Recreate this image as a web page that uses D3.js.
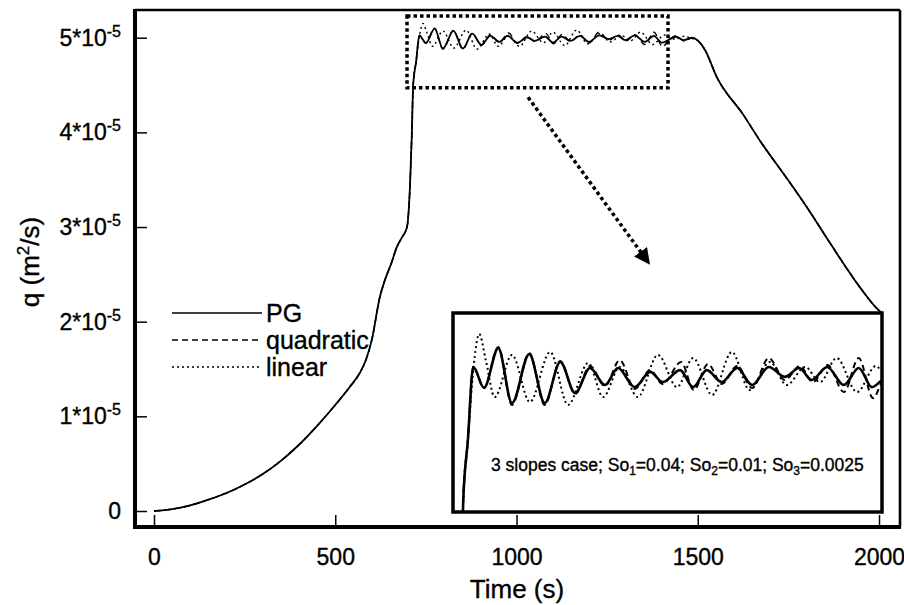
<!DOCTYPE html>
<html>
<head>
<meta charset="utf-8">
<script src="https://cdn.jsdelivr.net/npm/d3@7"></script>
<style>
body { margin: 0; background: #fff; }
text { font-family: "Liberation Sans", Arial, Helvetica, sans-serif; fill: #000; stroke: #000; stroke-width: 0.35px; }
</style>
</head>
<body>
<script>
// time in s, q in units of 1e-5 m^2/s
var riseTime = [0, 50, 100, 150, 200, 250, 300, 350, 400, 450, 500, 540, 568, 585, 601, 623, 637, 655, 670, 684, 698, 706, 711];
var riseQ = [0, 0.02, 0.06, 0.12, 0.19, 0.28, 0.39, 0.53, 0.70, 0.90, 1.12, 1.31, 1.46, 1.60, 1.81, 2.26, 2.44, 2.62, 2.79, 2.89, 3.00, 3.42, 3.95];

var pgTime = [715, 723, 732, 750, 774, 797, 826, 852, 878, 903, 928, 953, 975, 1003, 1029, 1050, 1079, 1101, 1124, 1149, 1175, 1200, 1228, 1255, 1279, 1300, 1326, 1354, 1379, 1401, 1418, 1440, 1462, 1485];
var pgQ = [4.504, 4.745, 5.024, 4.944, 5.096, 4.886, 5.073, 4.886, 5.043, 4.924, 5.020, 4.955, 5.020, 4.947, 5.005, 4.966, 5.012, 4.947, 5.012, 4.966, 5.020, 4.955, 5.024, 4.986, 5.020, 4.974, 5.024, 4.955, 5.020, 4.947, 4.974, 5.010, 4.975, 5.000];

var quadTime = [715, 723, 732, 750, 774, 797, 826, 852, 878, 903, 928, 953, 978, 1003, 1029, 1050, 1081, 1102, 1126, 1149, 1175, 1200, 1228, 1255, 1280, 1302, 1327, 1354, 1379, 1403, 1418, 1440, 1462, 1485];
var quadQ = [4.504, 4.745, 5.024, 4.944, 5.100, 4.879, 5.077, 4.879, 5.047, 4.921, 5.028, 4.951, 5.050, 4.940, 5.012, 4.959, 5.043, 4.936, 5.035, 4.959, 5.028, 4.944, 5.058, 4.974, 5.028, 4.966, 5.031, 4.928, 5.058, 4.905, 4.966, 5.020, 4.965, 5.000];

var linTime = [715, 723, 732, 742, 753, 768, 797, 827, 861, 891, 925, 950, 978, 1008, 1042, 1074, 1101, 1133, 1166, 1196, 1230, 1258, 1289, 1314, 1342, 1376, 1408, 1418, 1440, 1462, 1485];
var linQ = [4.504, 4.745, 5.012, 5.150, 5.050, 4.909, 5.070, 4.890, 5.081, 4.879, 5.039, 4.909, 5.024, 4.909, 5.070, 4.947, 5.058, 4.917, 5.081, 4.936, 5.043, 4.955, 5.024, 4.966, 5.058, 4.928, 5.028, 5.005, 4.985, 5.015, 4.990];

var fallTime = [1500, 1520, 1553, 1625, 1672, 1754, 1801, 1865, 1948, 1994, 2008];
var fallQ = [4.97, 4.87, 4.58, 4.19, 3.91, 3.47, 3.21, 2.83, 2.36, 2.14, 2.09];

var seriesNames = ["PG", "quadratic", "linear"];
var xTicks = [0, 500, 1000, 1500, 2000];
var yTicks = [0, 1, 2, 3, 4, 5];
var zoomTime = [698, 1418];
var zoomQ = [4.47, 5.23];
var captionParts = [["3 slopes case; So", 0], ["1", 1], ["=0.04; So", 0], ["2", 1], ["=0.01; So", 0], ["3", 1], ["=0.0025", 0]];

function init(){
    var w = 904;
    var h = 605;
    var left = 135, right = 900, top = 10, bottom = 527;

    function build(t, q){
        var pts = [];
        riseTime.forEach(function(d, i){ pts.push([d, riseQ[i]]); });
        t.forEach(function(d, i){ pts.push([d, q[i]]); });
        fallTime.forEach(function(d, i){ pts.push([d, fallQ[i]]); });
        return pts;
    }
    var series = [build(pgTime, pgQ), build(quadTime, quadQ), build(linTime, linQ)];
    var dashes = [null, "6,4", "2,3"];

    var xScale = d3.scaleLinear().domain([0, 2000]).range([154, 879]);
    var yScale = d3.scaleLinear().domain([0, 5]).range([511, 37.7]);

    var svg = d3.select("body")
                .append("svg")
                .attr("width", w)
                .attr("height", h);

    var defs = svg.append("defs");
    defs.append("marker")
        .attr("id", "head")
        .attr("viewBox", "0 0 10 10")
        .attr("refX", 8).attr("refY", 5)
        .attr("markerUnits", "userSpaceOnUse")
        .attr("markerWidth", 16).attr("markerHeight", 16)
        .attr("orient", "auto")
        .append("path").attr("d", "M0,0L10,5L0,10z").attr("fill", "#000");

    var line = d3.line()
                 .x(function(d){ return xScale(d[0]); })
                 .y(function(d){ return yScale(d[1]); })
                 .curve(d3.curveMonotoneX);

    // main curves, PG drawn last
    [2, 1, 0].forEach(function(i){
        svg.append("path")
           .attr("d", line(series[i]))
           .attr("fill", "none")
           .attr("stroke", "#000")
           .attr("stroke-width", i == 0 ? 1.8 : 1.4)
           .attr("stroke-dasharray", dashes[i]);
    });

    // zoom window
    svg.append("rect")
       .attr("x", xScale(zoomTime[0]))
       .attr("y", yScale(zoomQ[1]))
       .attr("width", xScale(zoomTime[1]) - xScale(zoomTime[0]))
       .attr("height", yScale(zoomQ[0]) - yScale(zoomQ[1]))
       .attr("fill", "none")
       .attr("stroke", "#000")
       .attr("stroke-width", 3.5)
       .attr("stroke-dasharray", "3.5,3");

    // arrow
    svg.append("line")
       .attr("x1", xScale(1032)).attr("y1", yScale(4.37))
       .attr("x2", xScale(1363)).attr("y2", yScale(2.63))
       .attr("stroke", "#000")
       .attr("stroke-width", 3.5)
       .attr("stroke-dasharray", "3.5,3")
       .attr("marker-end", "url(#head)");

    // inset
    var ix = d3.scaleLinear().domain(zoomTime).range([453, 882]);
    var iy = d3.scaleLinear().domain(zoomQ).range([512, 313]);
    defs.append("clipPath").attr("id", "insetClip")
        .append("rect").attr("x", 453).attr("y", 313).attr("width", 429).attr("height", 199);

    var inset = svg.append("g");
    inset.append("rect")
         .attr("x", 453).attr("y", 313).attr("width", 429).attr("height", 199)
         .attr("fill", "#fff");

    var iline = d3.line()
                  .x(function(d){ return ix(d[0]); })
                  .y(function(d){ return iy(d[1]); })
                  .curve(d3.curveMonotoneX);
    var ig = inset.append("g").attr("clip-path", "url(#insetClip)");
    [2, 1, 0].forEach(function(i){
        ig.append("path")
          .attr("d", iline(series[i]))
          .attr("fill", "none")
          .attr("stroke", "#000")
          .attr("stroke-width", i == 0 ? 2.6 : 2)
          .attr("stroke-dasharray", i == 1 ? "6,4" : (i == 2 ? "2,3" : null));
    });

    var cap = inset.append("text")
                   .attr("x", 491).attr("y", 471)
                   .style("font-size", "17.5px");
    captionParts.forEach(function(p, k){
        var prev = k > 0 ? captionParts[k - 1][1] : 0;
        cap.append("tspan")
           .attr("dy", p[1] ? 4 : (prev ? -4 : 0))
           .style("font-size", p[1] ? "12px" : "17.5px")
           .text(p[0]);
    });

    inset.append("rect")
         .attr("x", 453).attr("y", 313).attr("width", 429).attr("height", 199)
         .attr("fill", "none")
         .attr("stroke", "#000")
         .attr("stroke-width", 3.5);

    // axes
    var yAxis = d3.axisLeft(yScale)
                  .tickValues(yTicks)
                  .tickSizeInner(-12)
                  .tickSizeOuter(0)
                  .tickPadding(14);
    var gy = svg.append("g").attr("transform", "translate(" + left + ",0)").call(yAxis);
    gy.select(".domain").remove();
    gy.selectAll("line").attr("stroke-width", 1.5);
    gy.selectAll("text")
      .style("font-size", "23px")
      .text(null)
      .each(function(d){
          var t = d3.select(this);
          if (d == 0) { t.append("tspan").text("0"); return; }
          t.append("tspan").text(d + "*10");
          t.append("tspan").attr("dy", -9).style("font-size", "16px").text("-5");
      });

    var xAxis = d3.axisBottom(xScale)
                  .tickValues(xTicks)
                  .tickSizeInner(-12)
                  .tickSizeOuter(0)
                  .tickPadding(22)
                  .tickFormat(d3.format("d"));
    var gx = svg.append("g").attr("transform", "translate(0," + bottom + ")").call(xAxis);
    gx.select(".domain").remove();
    gx.selectAll("line").attr("stroke-width", 1.5);
    gx.selectAll("text").style("font-size", "23px");

    // frame
    var frame = svg.append("g").attr("stroke", "#000");
    frame.append("line").attr("x1", left).attr("y1", top).attr("x2", right).attr("y2", top).attr("stroke-width", 2.6);
    frame.append("line").attr("x1", right).attr("y1", top).attr("x2", right).attr("y2", bottom).attr("stroke-width", 2.6);
    frame.append("line").attr("x1", left).attr("y1", top - 1).attr("x2", left).attr("y2", bottom + 2).attr("stroke-width", 4);
    frame.append("line").attr("x1", left - 2).attr("y1", bottom).attr("x2", right + 1).attr("y2", bottom).attr("stroke-width", 4);

    // titles
    svg.append("text")
       .attr("x", 517).attr("y", 598)
       .attr("text-anchor", "middle")
       .style("font-size", "26px")
       .text("Time (s)");
    var yt = svg.append("text")
                .attr("transform", "translate(39,262) rotate(-90)")
                .attr("text-anchor", "middle")
                .style("font-size", "26px");
    yt.append("tspan").text("q (m");
    yt.append("tspan").attr("dy", -10).style("font-size", "17px").text("2");
    yt.append("tspan").attr("dy", 10).text("/s)");

    // legend
    var legend = svg.append("g");
    seriesNames.forEach(function(name, i){
        var ly = 313 + i * 27;
        legend.append("line")
              .attr("x1", 172).attr("x2", 262)
              .attr("y1", ly).attr("y2", ly)
              .attr("stroke", "#000")
              .attr("stroke-width", 1.5)
              .attr("stroke-dasharray", dashes[i]);
        legend.append("text")
              .attr("x", 266).attr("y", ly + 9)
              .style("font-size", "25px")
              .text(name);
    });
}
window.onload = init;
</script>
</body>
</html>
